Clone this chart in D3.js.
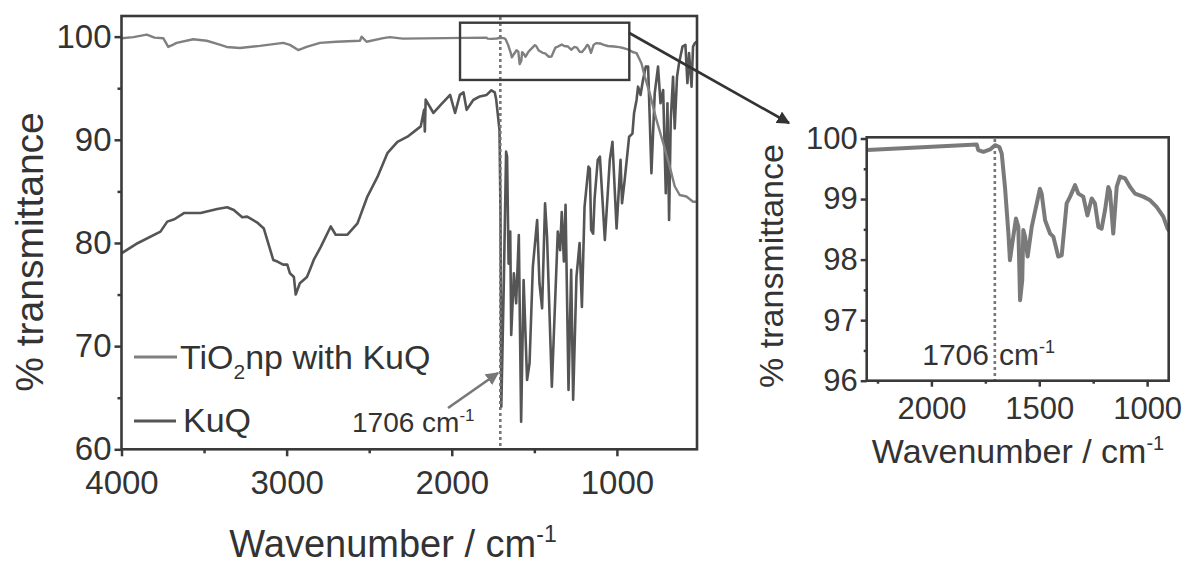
<!DOCTYPE html>
<html>
<head>
<meta charset="utf-8">
<script src="https://cdn.jsdelivr.net/npm/d3@7"></script>
<style>
  body { margin: 0; background: #fff; }
  svg text { font-family: "Liberation Sans", Arial, sans-serif; fill: #333; }
</style>
</head>
<body>
<div id="chart"></div>
<script>
// data
var kuqWn = [4000,3900,3764,3723,3680,3622,3521,3420,3360,3320,3269,3239,3180,3138,3097,3081,3056,3021,2996,2980,2956,2945,2920,2877,2859,2836,2794,2733,2703,2632,2571,2511,2450,2390,2329,2268,2188,2168,2163,2158,2111,2060,2010,1980,1951,1929,1910,1870,1830,1789,1760,1740,1731,1711,1705,1700,1685,1671,1665,1656,1646,1640,1624,1610,1594,1580,1565,1544,1529,1509,1483,1469,1453,1435,1423,1394,1358,1344,1334,1321,1311,1293,1277,1265,1245,1226,1212,1196,1172,1164,1156,1144,1135,1116,1103,1073,1043,1027,1002,978,969,953,926,906,896,881,872,857,842,825,811,791,771,751,736,720,704,694,684,674,660,650,636,624,603,585,573,563,548,539,528,518];
var kuqT = [79.0,80.0,81.1,82.07,82.3,82.9,82.9,83.3,83.46,83.2,82.5,82.55,82.0,81.4,79.2,78.35,78.2,77.9,77.9,77.06,76.7,75.0,76.1,76.7,77.4,78.35,79.6,81.6,80.8,80.8,81.9,84.5,86.4,88.7,89.8,90.3,91.3,92.9,90.8,93.9,92.6,93.5,94.35,92.6,94.35,94.6,92.9,93.86,94.2,94.35,94.8,94.6,93.9,90.96,82.9,64.13,76,88.85,88.37,78.0,81.1,71.08,77.06,74.15,80.77,62.68,76.41,66.72,68.34,77.7,82.23,76.1,73.67,83.85,80.6,66.07,81.1,79.3,83.0,78.2,83.7,65.75,77.4,64.8,76.7,80.0,73.8,83.5,87.4,87.2,81.26,80.9,84.33,88.05,88.37,80.3,88.05,89.8,81.4,88.05,83.85,86.1,90.3,90.6,92.6,93.86,95.15,94.35,95.8,97.1,97.1,86.76,94.5,97.1,93.55,94.83,84.82,93.55,82.23,91.9,96.1,91.1,96.1,97.4,99.03,99.2,95.5,98.4,95.15,99.03,99.36,99.5];

var tioWn = [4000,3928,3847,3800,3747,3717,3690,3666,3566,3484,3420,3363,3283,3162,3021,2980,2930,2879,2798,2700,2556,2546,2516,2415,2375,2297,1790,1783,1759,1728,1705,1685,1674,1659,1643,1636,1623,1608,1597,1589,1579,1574,1566,1554,1535,1497,1489,1473,1450,1435,1412,1396,1373,1357,1334,1319,1296,1277,1257,1242,1226,1211,1195,1180,1172,1157,1141,1126,1102,1079,1056,1018,986,956,925,905,881,851,831,801,760,720,680,650,620,579,539,518];
var tioT = [99.85,99.95,100.2,99.9,99.85,99.0,99.2,99.4,99.75,99.6,99.3,99.0,98.9,99.1,99.4,99.2,98.7,99.0,99.4,99.5,99.6,100.0,99.5,99.85,99.95,99.81,99.9,99.81,99.78,99.82,99.89,99.86,99.75,99.2,98.43,97.99,98.32,98.68,98.54,97.33,97.66,98.49,98.38,98.05,98.54,99.17,99.09,98.65,98.43,98.38,98.05,98.07,98.93,99.04,99.23,99.09,99.04,98.73,99.01,98.93,98.54,98.51,98.82,99.2,99.12,98.43,99.2,99.37,99.34,99.2,99.09,99.04,98.98,98.87,98.71,98.51,98.4,97.4,96.1,94.5,91.9,89.7,87.4,85.5,84.65,84.5,84.0,84.0];

var mainXTicks = [4000,3000,2000,1000];
var mainXMinor = [3500,2500,1500];
var mainYTicks = [60,70,80,90,100];
var mainYMinor = [65,75,85,95];
var insetXTicks = [2000,1500,1000];
var insetXMinor = [2250,1750,1250];
var insetYTicks = [96,97,98,99,100];
var insetYMinor = [96.5,97.5,98.5,99.5];
var markerWn = 1706;
var zoomBox = {wn: [1950, 925], t: [95.8, 101.35]};

var kuq = kuqWn.map((w,i) => ({w: w, t: kuqT[i]}));
var tio = tioWn.map((w,i) => ({w: w, t: tioT[i]}));

var svg = d3.select('#chart').append('svg')
    .attr('width', 1184).attr('height', 566);

var defs = svg.append('defs');
function arrowHead(id, color){
    defs.append('marker')
        .attr('id', id)
        .attr('viewBox', '0 0 10 10')
        .attr('refX', 9).attr('refY', 5)
        .attr('markerWidth', 5).attr('markerHeight', 5)
        .attr('markerUnits', 'strokeWidth')
        .attr('orient', 'auto')
      .append('path')
        .attr('d', 'M0,0 L10,5 L0,10 z')
        .attr('fill', color);
}
arrowHead('arrGrey', '#777');
arrowHead('arrDark', '#333');

var axisColor = '#3a3a3a';

function styleAxis(g, fontSize){
    g.select('.domain').remove();
    g.selectAll('line').attr('stroke', axisColor).attr('stroke-width', 2.5);
    g.selectAll('text').attr('font-size', fontSize).attr('fill', '#333');
}

// ---------- main chart ----------
var x = d3.scaleLinear().domain([4000, 515]).range([121.5, 697]);
var y = d3.scaleLinear().domain([60, 102]).range([449.3, 16]);

var main = svg.append('g');
defs.append('clipPath').attr('id', 'clipMain')
  .append('rect').attr('x', 121.5).attr('y', 16).attr('width', 697 - 121.5).attr('height', 449.3 - 16);

var lineMain = d3.line().x(d => x(d.w)).y(d => y(d.t));

main.append('path').datum(kuq)
    .attr('d', lineMain)
    .attr('fill', 'none')
    .attr('stroke', '#555')
    .attr('stroke-width', 2.6)
    .attr('stroke-linejoin', 'round')
    .attr('clip-path', 'url(#clipMain)');

main.append('path').datum(tio)
    .attr('d', lineMain)
    .attr('fill', 'none')
    .attr('stroke', '#808080')
    .attr('stroke-width', 2.4)
    .attr('stroke-linejoin', 'round')
    .attr('clip-path', 'url(#clipMain)');

// dotted marker line
main.append('line')
    .attr('x1', x(markerWn)).attr('x2', x(markerWn))
    .attr('y1', 17).attr('y2', 448)
    .attr('stroke', '#777').attr('stroke-width', 2.6)
    .attr('stroke-dasharray', '3,3');

// zoom rectangle
main.append('rect')
    .attr('x', x(zoomBox.wn[0])).attr('y', y(zoomBox.t[1]))
    .attr('width', x(zoomBox.wn[1]) - x(zoomBox.wn[0]))
    .attr('height', y(zoomBox.t[0]) - y(zoomBox.t[1]))
    .attr('fill', 'none').attr('stroke', axisColor).attr('stroke-width', 2.4);

// frame
main.append('rect')
    .attr('x', 121.5).attr('y', 16).attr('width', 697 - 121.5).attr('height', 449.3 - 16)
    .attr('fill', 'none').attr('stroke', axisColor).attr('stroke-width', 2.6);

var xAxisMain = main.append('g').attr('transform', 'translate(0,449.3)')
    .call(d3.axisBottom(x).tickValues(mainXTicks).tickSize(7).tickPadding(14).tickFormat(d3.format('d')));
styleAxis(xAxisMain, 33);
var xMinorMain = main.append('g').attr('transform', 'translate(0,449.3)')
    .call(d3.axisBottom(x).tickValues(mainXMinor).tickSize(4).tickFormat(''));
styleAxis(xMinorMain, 33);

var yAxisMain = main.append('g').attr('transform', 'translate(121.5,0)')
    .call(d3.axisLeft(y).tickValues(mainYTicks).tickSize(7).tickPadding(3));
styleAxis(yAxisMain, 33);
var yMinorMain = main.append('g').attr('transform', 'translate(121.5,0)')
    .call(d3.axisLeft(y).tickValues(mainYMinor).tickSize(4).tickFormat(''));
styleAxis(yMinorMain, 33);

// axis titles
main.append('text')
    .attr('transform', 'translate(43,252) rotate(-90)')
    .attr('text-anchor', 'middle')
    .attr('font-size', 39)
    .text('% transmittance');

var xt = main.append('text')
    .attr('x', 393).attr('y', 557)
    .attr('text-anchor', 'middle')
    .attr('font-size', 38);
xt.append('tspan').text('Wavenumber / cm');
xt.append('tspan').attr('dy', -15).attr('font-size', 23).text('-1');

// legend
var legend = main.append('g');
legend.append('line').attr('x1', 134).attr('x2', 177).attr('y1', 357).attr('y2', 357)
    .attr('stroke', '#808080').attr('stroke-width', 3);
legend.append('line').attr('x1', 134).attr('x2', 176).attr('y1', 421).attr('y2', 421)
    .attr('stroke', '#555').attr('stroke-width', 3);
var lt = legend.append('text').attr('x', 180).attr('y', 369).attr('font-size', 34);
lt.append('tspan').text('TiO');
lt.append('tspan').attr('dy', 10).attr('font-size', 21).text('2');
lt.append('tspan').attr('dy', -10).text('np with KuQ');
legend.append('text').attr('x', 183).attr('y', 432).attr('font-size', 34).text('KuQ');

// annotation
var at = main.append('text').attr('x', 352).attr('y', 432).attr('font-size', 28);
at.append('tspan').text('1706 cm');
at.append('tspan').attr('dy', -11).attr('font-size', 17).text('-1');
main.append('line')
    .attr('x1', 448).attr('y1', 408).attr('x2', 498).attr('y2', 373)
    .attr('stroke', '#777').attr('stroke-width', 2.6)
    .attr('marker-end', 'url(#arrGrey)');

// connector arrow to inset
svg.append('line')
    .attr('x1', x(zoomBox.wn[1])).attr('y1', 33)
    .attr('x2', 789).attr('y2', 123)
    .attr('stroke', '#333').attr('stroke-width', 2.6)
    .attr('marker-end', 'url(#arrDark)');

// ---------- inset ----------
var xi = d3.scaleLinear().domain([2300, 900]).range([866.7, 1168.7]);
var yi = d3.scaleLinear().domain([96, 100.02]).range([380.7, 137.3]);
var inset = svg.append('g');
defs.append('clipPath').attr('id', 'clipInset')
  .append('rect').attr('x', 866.7).attr('y', 137.3).attr('width', 1168.7 - 866.7).attr('height', 380.7 - 137.3);

inset.append('path').datum(tio)
    .attr('d', d3.line().x(d => xi(d.w)).y(d => yi(d.t)))
    .attr('fill', 'none')
    .attr('stroke', '#7a7a7a')
    .attr('stroke-width', 4)
    .attr('stroke-linejoin', 'round')
    .attr('clip-path', 'url(#clipInset)');

inset.append('line')
    .attr('x1', xi(markerWn)).attr('x2', xi(markerWn))
    .attr('y1', 139).attr('y2', 380)
    .attr('stroke', '#777').attr('stroke-width', 2.6)
    .attr('stroke-dasharray', '3,3');

inset.append('rect')
    .attr('x', 866.7).attr('y', 137.3).attr('width', 1168.7 - 866.7).attr('height', 380.7 - 137.3)
    .attr('fill', 'none').attr('stroke', axisColor).attr('stroke-width', 2.6);

var xAxisIn = inset.append('g').attr('transform', 'translate(0,380.7)')
    .call(d3.axisBottom(xi).tickValues(insetXTicks).tickSize(6).tickPadding(10).tickFormat(d3.format('d')));
styleAxis(xAxisIn, 31);
var xMinorIn = inset.append('g').attr('transform', 'translate(0,380.7)')
    .call(d3.axisBottom(xi).tickValues(insetXMinor).tickSize(3).tickFormat(''));
styleAxis(xMinorIn, 31);
var yAxisIn = inset.append('g').attr('transform', 'translate(866.7,0)')
    .call(d3.axisLeft(yi).tickValues(insetYTicks).tickSize(6).tickPadding(3).tickFormat(d3.format('d')));
styleAxis(yAxisIn, 31);
var yMinorIn = inset.append('g').attr('transform', 'translate(866.7,0)')
    .call(d3.axisLeft(yi).tickValues(insetYMinor).tickSize(3).tickFormat(''));
styleAxis(yMinorIn, 31);

inset.append('text')
    .attr('transform', 'translate(783,266) rotate(-90)')
    .attr('text-anchor', 'middle')
    .attr('font-size', 34)
    .text('% transmittance');

var xti = inset.append('text')
    .attr('x', 1018).attr('y', 463)
    .attr('text-anchor', 'middle')
    .attr('font-size', 34);
xti.append('tspan').text('Wavenumber / cm');
xti.append('tspan').attr('dy', -13).attr('font-size', 20).text('-1');

var it = inset.append('text').attr('x', 989).attr('y', 365).attr('text-anchor', 'end').attr('font-size', 30).text('1706');
var it2 = inset.append('text').attr('x', 999).attr('y', 365).attr('font-size', 30);
it2.append('tspan').text('cm');
it2.append('tspan').attr('dy', -12).attr('font-size', 18).text('-1');
</script>
</body>
</html>
